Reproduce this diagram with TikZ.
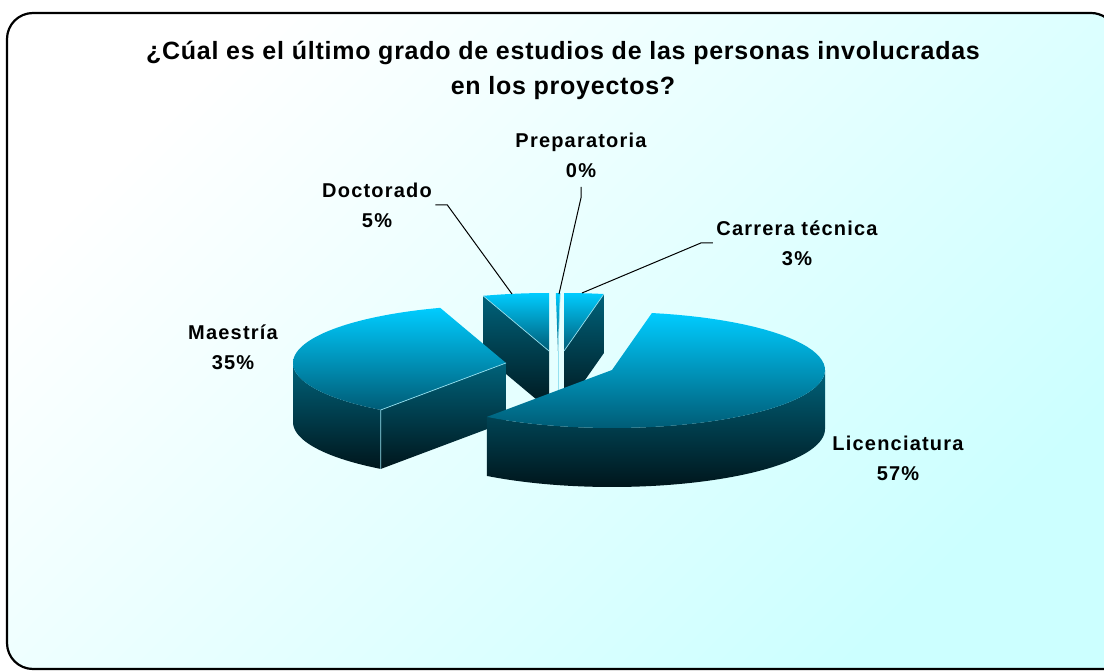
\documentclass[tikz,border=0pt]{standalone}
\usepackage{fontspec}
\setmainfont{Liberation Sans}
\newfontfamily\chartfont{Liberation Sans}[LetterSpace=6]
\newfontfamily\titlefont{Liberation Sans}[LetterSpace=3]

\definecolor{bgcyan}{RGB}{204,255,255}
\definecolor{topcyan}{RGB}{0,204,255}
\definecolor{topdeep}{RGB}{0,92,118}
\definecolor{walltop}{RGB}{0,98,122}
\definecolor{wallbot}{RGB}{0,22,28}
\definecolor{edgelight}{RGB}{150,225,240}

\tikzset{
  topface/.style={top color=topcyan, bottom color=topdeep},
  sideface/.style={top color=walltop, bottom color=wallbot},
  ridge/.style={draw=edgelight, line width=0.7pt},
  lbl/.style={font=\chartfont\bfseries\fontsize{20}{30}\selectfont, align=center},
  ttl/.style={font=\titlefont\bfseries\fontsize{25}{35}\selectfont, align=center},
  leader/.style={draw=black, line width=1pt},
}

\begin{document}
\begin{tikzpicture}[x=1pt, y=-1pt, samples=60]
\useasboundingbox (0,0) rectangle (1104,671);
\begin{scope}
  \clip (0,0) rectangle (1104,671);
  \shade[top color=white, bottom color=bgcyan, shading angle=45]
    (7,13) -- (1091,13) arc[start angle=90, end angle=60, radius=26pt]
    -- (1104,30) -- (1104,669) -- (33,669) arc[start angle=270, end angle=180, radius=26pt]
    -- (7,39) arc[start angle=180, end angle=90, radius=26pt] -- cycle;
  \draw[line width=2.2pt] (1104,669) -- (33,669) arc[start angle=270, end angle=180, radius=26pt]
    -- (7,39) arc[start angle=180, end angle=90, radius=26pt] -- (1091,13)
    arc[start angle=90, end angle=55, radius=26pt];
\end{scope}

% title
\node[ttl] (title) at (563,70) {¿Cúal es el último grado de estudios de las personas involucradas\\en los proyectos?};

% Doctorado (90 - 108)
\shade[topface] (549,351) -- plot[domain=90:108] ({549+213*cos(\x)},{351-58*sin(\x)}) -- cycle;
\shade[sideface] (549,351) -- ({549+213*cos(108)},{351-58*sin(108)}) -- ++(0,59) -- (549,410) -- cycle;
\draw[ridge] (549,351) -- ({549+213*cos(108)},{351-58*sin(108)});

% Preparatoria (0%)
\shade[topface] (558,351) -- plot[domain=89.4:90.6] ({558+213*cos(\x)},{351-58*sin(\x)}) -- cycle;
\draw[ridge] (558,351) -- ({558+213*cos(89.4)},{351-58*sin(89.4)});
\draw[ridge] (558,351) -- (558,410);

% Carrera tecnica (79.2 - 90)
\shade[topface] (564,351) -- plot[domain=79.2:90] ({564+213*cos(\x)},{351-58*sin(\x)}) -- cycle;
\shade[sideface] (564,351) -- ({564+213*cos(79.2)},{351-58*sin(79.2)}) -- ++(0,59) -- (564,410) -- cycle;
\draw[ridge] (564,351) -- ({564+213*cos(79.2)},{351-58*sin(79.2)});

% Maestria (108 - 234)
\shade[sideface] plot[domain=180:234] ({506+213*cos(\x)},{363-58*sin(\x)})
  -- plot[domain=234:180] ({506+213*cos(\x)},{422-58*sin(\x)}) -- cycle;
\shade[sideface] (506,363) -- ({506+213*cos(234)},{363-58*sin(234)}) -- ++(0,59) -- (506,422) -- cycle;
\shade[topface] (506,363) -- plot[domain=108:234] ({506+213*cos(\x)},{363-58*sin(\x)}) -- cycle;
\draw[ridge] (506,363) -- ({506+213*cos(234)},{363-58*sin(234)}) -- ++(0,59);

% Licenciatura (-126 - 79.2)
\shade[sideface] plot[domain=-126:0] ({612+213*cos(\x)},{370-58*sin(\x)})
  -- plot[domain=0:-126] ({612+213*cos(\x)},{429-58*sin(\x)}) -- cycle;
\shade[topface] (612,370) -- plot[domain=-126:79.2] ({612+213*cos(\x)},{370-58*sin(\x)}) -- cycle;

% labels
\node[lbl] (prepLbl) at (581,155) {Preparatoria\\0\%};
\node[lbl] (docLbl) at (377,205) {Doctorado\\5\%};
\node[lbl] (carLbl) at (797,243) {Carrera técnica\\3\%};
\node[lbl] (maeLbl) at (233,347) {Maestría\\35\%};
\node[lbl] (licLbl) at (898,458) {Licenciatura\\57\%};

\coordinate (docTip) at (512,294);
\coordinate (prepTip) at (559,294);
\coordinate (carTip) at (582,293);

\draw[leader] (docLbl.east) -- ++(12,0) -- (docTip);
\draw[leader] (prepLbl.south) ++(0,6) -- ++(0,11) -- (prepTip);
\draw[leader] (carLbl.west) -- ++(-12,0) -- (carTip);
\end{tikzpicture}
\end{document}
